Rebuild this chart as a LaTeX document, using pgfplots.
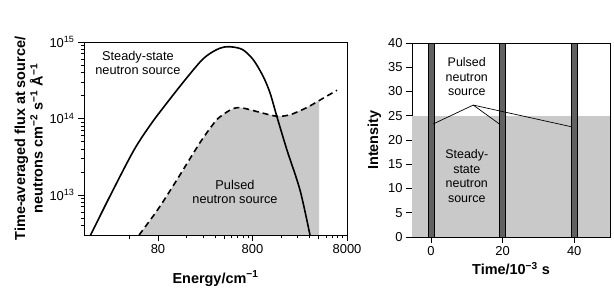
\documentclass[border=0pt]{standalone}
\usepackage{pgfplots}
\pgfplotsset{compat=1.18}
\usepackage{fontspec}
\setmainfont{Liberation Sans}
\definecolor{fillgray}{gray}{0.79}
\begin{document}
\begin{tikzpicture}
\useasboundingbox (0,0) rectangle (614bp,293bp);
\pgfplotsset{
  every axis/.append style={
    font=\fontsize{13}{15}\selectfont,
    tick align=outside,
    xtick pos=left, ytick pos=left,
    major tick length=6bp, minor tick length=3.5bp,
    axis line style={line width=0.8pt},
    every tick/.append style={black, line width=0.7pt},
    label style={font=\bfseries\fontsize{14.5}{17.5}\selectfont},
    /pgf/number format/assume math mode=true,
  }
}
% ---------- panel (a)
\begin{axis}[
  at={(84bp,58bp)}, anchor=south west, scale only axis,
  width=263bp, height=193bp,
  xmode=log, ymode=log,
  xmin=13.2, xmax=8000, ymin=3e12, ymax=1e15,
  xtick={80,800,8000}, xticklabels={80,800,8000},
  extra x ticks={40,400,4000}, extra x tick labels={},
  extra x tick style={major tick length=4.5bp},
  ytick={1e13,1e14,1e15},
  yticklabels={10\textsuperscript{13},10\textsuperscript{14},10\textsuperscript{15}},
  minor ytick={4e12,5e12,6e12,7e12,8e12,9e12,2e13,3e13,4e13,5e13,6e13,7e13,8e13,9e13,2e14,3e14,4e14,5e14,6e14,7e14,8e14,9e14},
  xlabel={Energy/cm\textsuperscript{−1}},
  ylabel={Time-averaged flux at source/\\neutrons cm\textsuperscript{−2} s\textsuperscript{−1} Å\textsuperscript{−1}},
  ylabel style={align=center},
]
\addplot[fill=fillgray, draw=none] coordinates {
 (50.5,3.0e12) (65,4.5e12) (80,6.5e12) (100,9.8e12) (127,1.58e13) (170,2.7e13) (222,4.8e13) (270,6.7e13) (313,8.7e13) (362,1.05e14)
 (420,1.2e14) (498,1.34e14) (560,1.38e14) (631,1.37e14) (780,1.29e14) (966,1.2e14) (1200,1.12e14) (1444,1.07e14) (1700,1.08e14) (1997,1.12e14)
 (2450,1.24e14) (2977,1.38e14) (3500,1.55e14) (4050,1.71e14) (4050,3e12)} --cycle;
\addplot[black, line width=1.6pt, dash pattern=on 6pt off 4pt, smooth, tension=0.5] coordinates {
 (50.5,3.0e12) (80,6.5e12) (127,1.58e13) (222,4.8e13) (313,8.7e13) (362,1.05e14)
 (498,1.35e14) (631,1.37e14) (966,1.2e14) (1444,1.07e14) (1997,1.12e14)
 (2977,1.38e14) (4140,1.74e14) (6266,2.34e14)};
\addplot[black, line width=1.6pt, smooth, tension=0.5] coordinates {
 (15.5,3.0e12) (26.1,1.09e13) (44.6,3.87e13) (67.5,8.47e13) (99.6,1.6e14) (154.5,3.18e14)
 (239.5,6.0e14) (336.8,7.98e14) (440,8.68e14) (619,8.03e14) (809,5.94e14) (1032,3.6e14)
 (1225,2.17e14) (1453,1.05e14) (1853,3.87e13) (2546,1.16e13) (3246,3.0e12)};
\node[align=center, font=\fontsize{12.8}{14}\selectfont] at (rel axis cs:0.205,0.891) {Steady-state\\neutron source};
\node[align=center, font=\fontsize{12.8}{14}\selectfont] at (rel axis cs:0.574,0.223) {Pulsed\\neutron source};
\node[font=\fontsize{12.5}{14}\selectfont] at (rel axis cs:0.973,1.078) {(a)};
\end{axis}
% ---------- panel (b)
\begin{axis}[
  at={(412bp,56bp)}, anchor=south west, scale only axis,
  width=198bp, height=194bp,
  xmin=-5.3, xmax=50, ymin=0, ymax=40,
  xtick={0,20,40}, ytick={0,5,...,40},
  xlabel={Time/10\textsuperscript{−3} s},
  ylabel={Intensity},
]
\addplot[fill=fillgray, draw=none] coordinates {(-5.3,0) (-5.3,25) (50,25) (50,0)} --cycle;
\addplot[fill=black!62, draw=black, line width=0.7pt] coordinates {(-0.8,0) (-0.8,40) (0.9,40) (0.9,0)} --cycle;
\addplot[fill=black!62, draw=black, line width=0.7pt] coordinates {(19.1,0) (19.1,40) (20.9,40) (20.9,0)} --cycle;
\addplot[fill=black!62, draw=black, line width=0.7pt] coordinates {(39.1,0) (39.1,40) (40.9,40) (40.9,0)} --cycle;
\addplot[black, line width=0.7pt] coordinates {(0.6,23.3) (11.8,27.2) (19.3,23.2)};
\addplot[black, line width=0.7pt] coordinates {(11.8,27.2) (39.4,22.7)};
\node[align=center, font=\fontsize{12.5}{14.5}\selectfont] at (axis cs:10,33) {Pulsed\\neutron\\source};
\node[align=center, font=\fontsize{12.5}{14.5}\selectfont] at (axis cs:10,12.6) {Steady-\\state\\neutron\\source};
\node[font=\fontsize{12.5}{14}\selectfont] at (rel axis cs:0.96,1.055) {(b)};
\end{axis}
\end{tikzpicture}
\end{document}
